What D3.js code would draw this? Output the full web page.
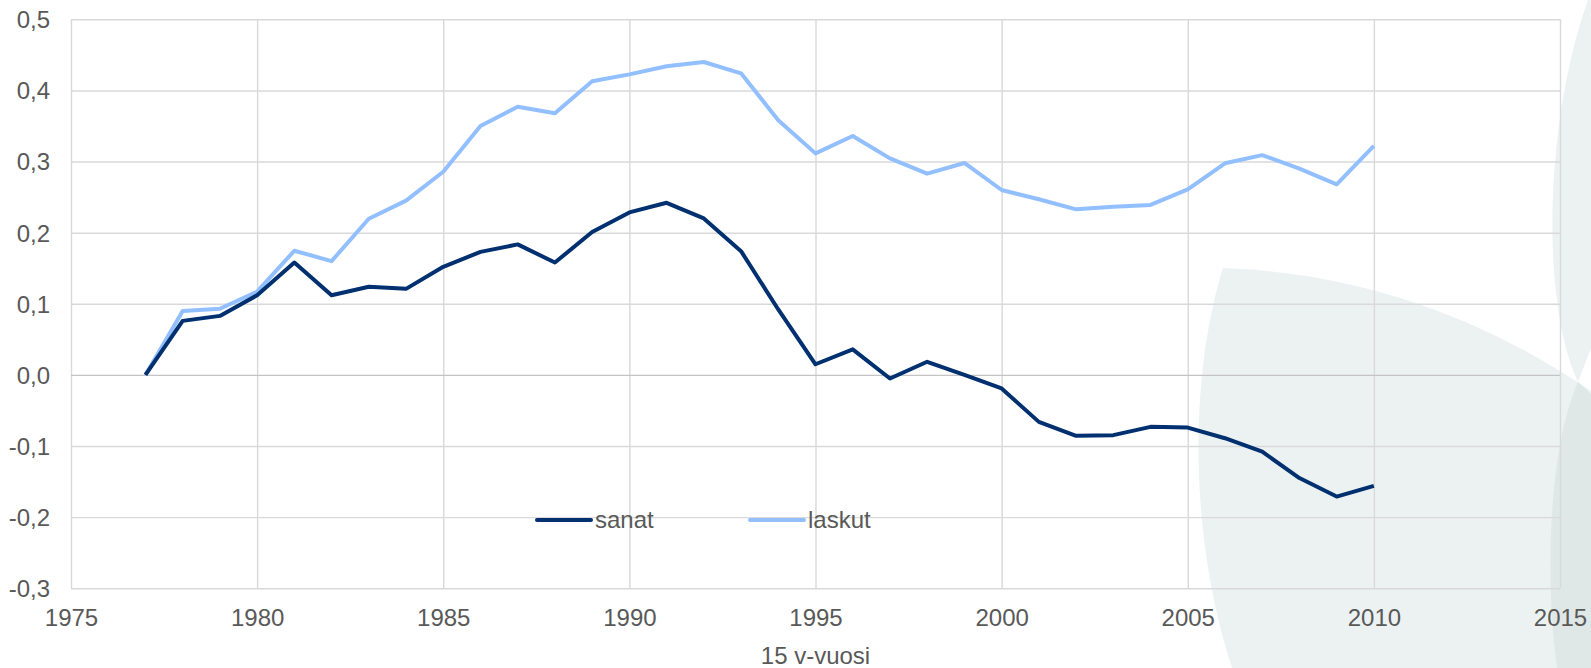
<!DOCTYPE html>
<html>
<head>
<meta charset="utf-8">
<script src="https://cdn.jsdelivr.net/npm/d3@7"></script>
<style>
	body { margin: 0; background: #ffffff; }
	svg { display: block; font-family: "Liberation Sans", Arial, sans-serif; }
</style>
</head>
<body>
<script>
// vuodet ja sarjat (luettu kuvasta)
const years = [1977,1978,1979,1980,1981,1982,1983,1984,1985,1986,1987,1988,1989,1990,1991,1992,1993,
	1994,1995,1996,1997,1998,1999,2000,2001,2002,2003,2004,2005,2006,2007,2008,2009,2010];
const sanat = [0,0.076,0.083,0.112,0.158,0.112,0.124,0.121,0.152,0.173,0.1835,0.158,0.201,0.2285,0.242,0.220,0.174,
	0.092,0.015,0.036,-0.005,0.0185,0,-0.019,-0.066,-0.0856,-0.0847,-0.073,-0.074,-0.089,-0.108,-0.145,-0.171,-0.156];
const laskut = [0,0.090,0.093,0.117,0.1746,0.160,0.2196,0.245,0.2857,0.350,0.377,0.368,0.413,0.4226,0.434,0.440,0.424,
	0.358,0.3115,0.336,0.3045,0.283,0.298,0.260,0.247,0.2328,0.2365,0.239,0.261,0.2975,0.309,0.290,0.268,0.322];
const seriesNames = ["sanat", "laskut"];
const seriesColors = ["#003070", "#92bfff"];
const xTicks = [1975,1980,1985,1990,1995,2000,2005,2010,2015];
const yTicks = [-0.3,-0.2,-0.1,0,0.1,0.2,0.3,0.4,0.5];
const xTitle = "15 v-vuosi";

const width = 1591, height = 668;
const pLeft = 71, pRight = 1560, pTop = 19.3, pBottom = 588.3;
const fontSize = "24px";

const fi = d3.formatLocale({decimal: ",", thousands: " ", grouping: [3], currency: ["", " €"], minus: "-"});
const fmt = fi.format(".1f");

const svg = d3.select("body").append("svg")
	.attr("width", width)
	.attr("height", height);

// taustan koristekuviot
const deco = svg.append("g");
deco.append("path")
	.attr("d", "M1223,268 Q1420,275 1591,391 L1591,668 L1232,668 C1190,540 1188,380 1223,268 Z")
	.attr("fill", "#ecf2f2");
deco.append("path")
	.attr("d", "M1588,0 C1545,120 1540,300 1578,382 L1591,348 L1591,0 Z")
	.attr("fill", "#ecf2f2");
deco.append("path")
	.attr("d", "M1578,382 C1548,450 1545,580 1557,668 L1591,668 L1591,394 Z")
	.attr("fill", "#dfe7e7");

const x = d3.scaleLinear().domain([1975, 2015]).range([pLeft, pRight]);
const y = d3.scaleLinear().domain([-0.3, 0.5]).range([pBottom, pTop]);

// ruudukko
const gx = svg.append("g")
	.attr("transform", "translate(0," + pBottom + ")")
	.call(d3.axisBottom(x).tickValues(xTicks).tickSize(-(pBottom - pTop)).tickFormat(d3.format("d")).tickPadding(21));
const gy = svg.append("g")
	.attr("transform", "translate(" + pLeft + ",0)")
	.call(d3.axisLeft(y).tickValues(yTicks).tickSize(-(pRight - pLeft)).tickFormat(fmt).tickPadding(21));

[gx, gy].forEach(function(g) {
	g.select(".domain").remove();
	g.selectAll(".tick line")
		.attr("stroke", "#d9d9d9")
		.attr("stroke-width", 1.4);
	g.selectAll(".tick text")
		.attr("fill", "#595959")
		.style("font-size", fontSize);
});
gy.selectAll(".tick line").filter(function(d) { return d === 0; }).attr("stroke", "#c4c4c4");
gy.selectAll(".tick text").attr("dy", "0.35em");
gx.selectAll(".tick text").attr("dy", "0.71em");

// viivat
const line = d3.line()
	.x(function(d, i) { return x(years[i]); })
	.y(function(d) { return y(d); });

[laskut, sanat].forEach(function(s, k) {
	svg.append("path")
		.datum(s)
		.attr("d", line)
		.attr("fill", "none")
		.attr("stroke", seriesColors[1 - k])
		.attr("stroke-width", 4)
		.attr("stroke-linejoin", "round");
});

// selite
const legendX = [537, 750];
const legend = svg.append("g")
	.selectAll("g")
	.data(seriesNames)
	.join("g")
	.attr("transform", function(d, i) { return "translate(" + legendX[i] + ",520)"; });
legend.append("line")
	.attr("x1", 0).attr("x2", 54)
	.attr("stroke", function(d, i) { return seriesColors[i]; })
	.attr("stroke-width", 4)
	.attr("stroke-linecap", "round");
legend.append("text")
	.attr("x", 58)
	.attr("y", 8)
	.attr("fill", "#595959")
	.style("font-size", fontSize)
	.text(function(d) { return d; });

// akselin otsikko
svg.append("text")
	.attr("x", (pLeft + pRight) / 2)
	.attr("y", 664)
	.attr("text-anchor", "middle")
	.attr("fill", "#595959")
	.style("font-size", fontSize)
	.text(xTitle);
</script>
</body>
</html>
